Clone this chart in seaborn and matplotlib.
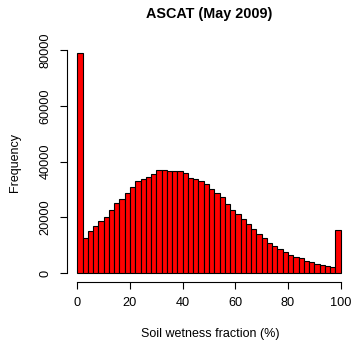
import numpy as np
import matplotlib
matplotlib.use("Agg")
import matplotlib.pyplot as plt
import seaborn as sns

bin_edges = list(range(0, 102, 2))
counts = [79000, 12700, 15000, 16800, 18600, 20200, 22800, 25100, 26600, 28700,
          30800, 33200, 33800, 34600, 35500, 36900, 36900, 36700, 36700, 36700,
          35800, 34000, 33800, 33100, 31900, 30300, 28700, 27200, 24700, 22800,
          21400, 19300, 17600, 15800, 14200, 12500, 10700, 9700, 8700, 7500,
          6700, 5700, 5600, 4400, 3900, 3300, 3000, 2600, 2400, 15400]
x_ticks = [0, 20, 40, 60, 80, 100]
y_ticks = [0, 20000, 40000, 60000, 80000]
title = "ASCAT (May 2009)"
xlabel = "Soil wetness fraction (%)"
ylabel = "Frequency"

sns.set_style("white")
plt.rcParams['font.family'] = ['Liberation Sans', 'DejaVu Sans']
plt.rcParams['text.color'] = 'black'
plt.rcParams['axes.labelcolor'] = 'black'

W, H = 352, 343
fig = plt.figure(figsize=(W / 100, H / 100), dpi=100)
left, right, top, bottom = 66.8, 351.2, 44.0, 282.1
ax = fig.add_axes([left / W, 1 - bottom / H, (right - left) / W, (bottom - top) / H])

centers = [(a + b) / 2 for a, b in zip(bin_edges[:-1], bin_edges[1:])]
sns.histplot(x=centers, weights=counts, bins=bin_edges, color="red",
             edgecolor="black", linewidth=0.8, alpha=1, ax=ax)

ymax = max(counts)
ax.set_xlim(-4, 104)
ax.set_ylim(-0.04 * ymax, 1.04 * ymax)

for s in ["top", "right"]:
    ax.spines[s].set_visible(False)
ax.spines["bottom"].set_bounds(0, 100)
ax.spines["left"].set_bounds(0, 80000)
for s in ["bottom", "left"]:
    ax.spines[s].set_linewidth(0.8)
    ax.spines[s].set_color("black")

ax.set_xticks(x_ticks)
ax.set_yticks(y_ticks)
ax.set_yticklabels([str(v) for v in y_ticks], rotation=90, va="center")
ax.tick_params(axis="both", direction="out", length=5, width=0.8, colors="black",
               labelcolor="black", labelsize=9.2, bottom=True, left=True)
ax.tick_params(axis="x", pad=5.5)
ax.tick_params(axis="y", pad=6)

ax.set_xlabel(xlabel, fontsize=9, color="black")
ax.set_ylabel(ylabel, fontsize=9, color="black")
ax.xaxis.set_label_coords(0.503, (bottom - 334) / (bottom - top))
ax.xaxis.label.set_va("center")
ax.yaxis.set_label_coords((15 - left) / (right - left), 0.504)
ax.yaxis.label.set_va("center")
ax.set_title(title, fontsize=10.4, fontweight="bold", color="black", pad=0,
             y=(bottom - 14) / (bottom - top), va="center")

fig.savefig("out.png", dpi=100)
